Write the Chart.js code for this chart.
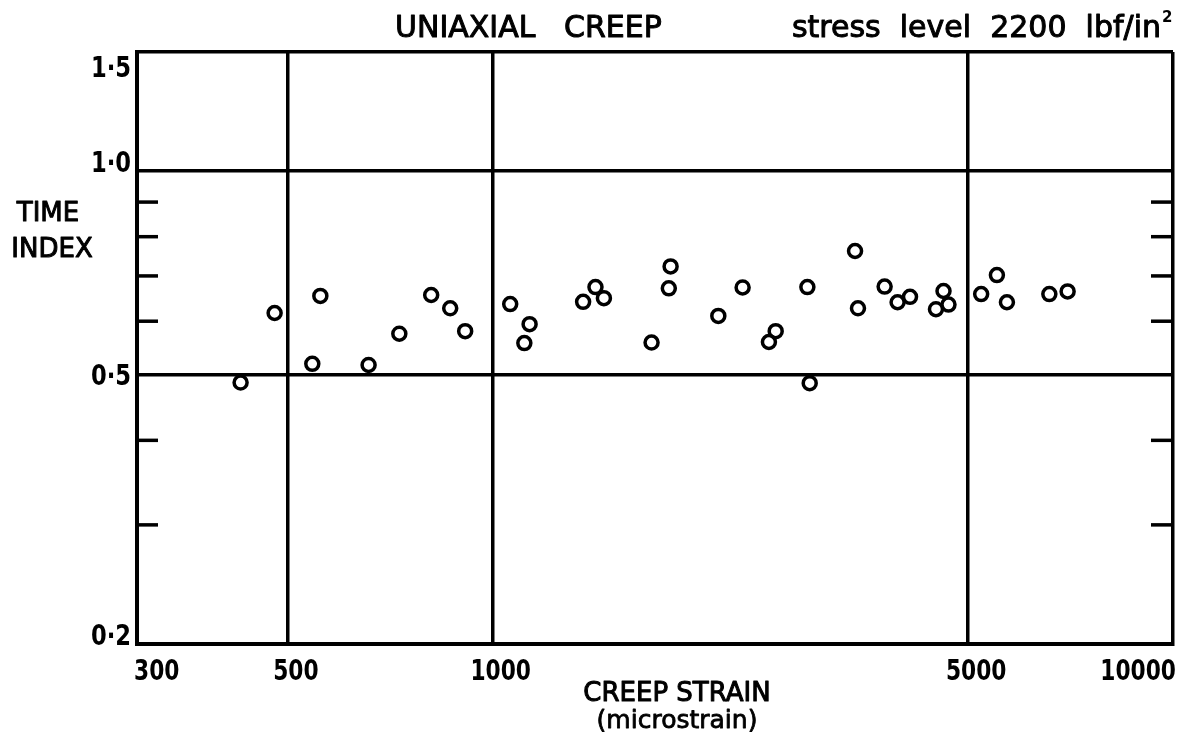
<!DOCTYPE html>
<html>
<head>
<meta charset="utf-8">
<script src="https://cdn.jsdelivr.net/npm/chart.js@4/dist/chart.umd.min.js"></script>
<style>
  html, body { margin: 0; padding: 0; background: #fff; }
  #wrap { width: 1193px; height: 737px; position: relative; }
</style>
</head>
<body>
<div id="wrap"><canvas id="c" width="1193" height="737"></canvas></div>
<script>
// ---- data ----
const strain = [426, 478, 543, 558, 657, 729, 812, 866, 911, 1061,
                1113, 1133, 1358, 1416, 1457, 1712, 1815, 1826, 2146, 2330,
                2547, 2606, 2901, 2924, 3409, 3443, 3768, 3937, 4106, 4483,
                4599, 4677, 5224, 5510, 5700, 6580, 7000];
const timeIndex = [0.487, 0.617, 0.519, 0.654, 0.517, 0.575, 0.656, 0.627, 0.580, 0.636,
                   0.557, 0.594, 0.641, 0.674, 0.649, 0.558, 0.671, 0.723, 0.611, 0.673,
                   0.559, 0.580, 0.674, 0.486, 0.762, 0.627, 0.675, 0.640, 0.652, 0.625,
                   0.665, 0.635, 0.658, 0.702, 0.640, 0.658, 0.664];

const xTickValues = [300, 500, 1000, 5000, 10000];
const xTickLabels = ['300', '500', '1000', '5000', '10000'];
const xGridValues = [500, 1000, 5000, 10000];

const yTickValues = [0.2, 0.5, 1.0, 1.5];
const yTickLabels = ['0·2', '0·5', '1·0', '1·5'];
const yGridValues = [0.5, 1.0, 1.5];
const yMinorTicks = [0.3, 0.4, 0.6, 0.7, 0.8, 0.9];

const titleLeft = 'UNIAXIAL   CREEP';
const titleRight = 'stress  level  2200  lbf/in';
const titleSup = '2';
const yTitle = ['TIME', 'INDEX'];
const xTitle = ['CREEP STRAIN', '(microstrain)'];

// ---- drawing ----
const FONT = '"DejaVu Sans", "Liberation Sans", sans-serif';
const points = strain.map((s, i) => ({ x: s, y: timeIndex[i] }));

const textPlugin = {
  id: 'paperText',
  afterDraw(chart) {
    const ctx = chart.ctx, xs = chart.scales.x, ys = chart.scales.y, a = chart.chartArea;
    ctx.save();
    ctx.strokeStyle = '#000';
    ctx.fillStyle = '#000';
    ctx.lineCap = 'butt';
    const line = (x1, y1, x2, y2) => { ctx.beginPath(); ctx.moveTo(x1, y1); ctx.lineTo(x2, y2); ctx.stroke(); };
    const txt = (s, x, y, font, align, sx, thick) => {
      ctx.save();
      ctx.translate(x, y);
      ctx.scale(sx, 1);
      ctx.font = font;
      ctx.textAlign = align;
      ctx.textBaseline = 'alphabetic';
      ctx.fillText(s, 0, 0);
      if (thick) { ctx.lineWidth = thick; ctx.lineJoin = 'round'; ctx.strokeText(s, 0, 0); }
      ctx.restore();
    };

    // inward minor ticks on both sides
    ctx.lineWidth = 3.5;
    yMinorTicks.forEach(v => {
      const y = ys.getPixelForValue(v);
      line(a.left, y, a.left + 21, y);
      line(a.right - 22, y, a.right, y);
    });

    // y tick labels
    const tickFont = 'bold 29px ' + FONT;
    const yShift = { '1.5': 25, '1': 1, '0.5': 10, '0.2': 1 };
    yTickValues.forEach((v, i) => {
      const y = ys.getPixelForValue(v) + (yShift[String(v)] || 0);
      txt(yTickLabels[i], a.left - 6, y, tickFont, 'right', 0.78, 0);
    });

    // x tick labels
    const xb = a.bottom + 36;
    xTickValues.forEach((v, i) => {
      const x = xs.getPixelForValue(v);
      if (i === 0) txt(xTickLabels[i], x - 3, xb, tickFont, 'left', 0.75, 0);
      else if (i === xTickValues.length - 1) txt(xTickLabels[i], x + 3, xb, tickFont, 'right', 0.75, 0);
      else txt(xTickLabels[i], x + 8, xb, tickFont, 'center', 0.75, 0);
    });

    // axis titles
    txt(yTitle[0], 48, 221, '26px ' + FONT, 'center', 1, 1);
    txt(yTitle[1], 52, 257, '26px ' + FONT, 'center', 1, 1);
    txt(xTitle[0], 677, a.bottom + 57, '26px ' + FONT, 'center', 1, 1);
    txt(xTitle[1], 677, a.bottom + 84, '25px ' + FONT, 'center', 1, 0.8);

    // chart titles
    txt(titleLeft, 395, 37, '30px ' + FONT, 'left', 1, 1);
    const rx = 1161;
    txt(titleRight, rx, 37, '30px ' + FONT, 'right', 1, 1);
    txt(titleSup, rx + 1, 22, 'bold 15px ' + FONT, 'left', 1, 0);
    ctx.restore();
  }
};

new Chart(document.getElementById('c'), {
  type: 'scatter',
  data: {
    datasets: [{
      data: points,
      pointStyle: 'circle',
      pointRadius: 6.5,
      pointHoverRadius: 6.5,
      borderWidth: 3.5,
      borderColor: '#000',
      backgroundColor: 'rgba(255,255,255,0)'
    }]
  },
  options: {
    responsive: false,
    animation: false,
    events: [],
    layout: { padding: { left: 137, top: 52, right: 20, bottom: 93 } },
    plugins: { legend: { display: false }, tooltip: { enabled: false }, title: { display: false } },
    scales: {
      x: {
        type: 'logarithmic',
        min: 300, max: 10000,
        afterBuildTicks: s => { s.ticks = xTickValues.map(v => ({ value: v })); },
        afterFit: s => { s.height = 0; },
        ticks: { display: false },
        border: { display: true, color: '#000', width: 4 },
        grid: {
          drawTicks: false,
          lineWidth: 3.5,
          color: c => (c.tick && xGridValues.includes(c.tick.value)) ? '#000' : 'rgba(0,0,0,0)'
        }
      },
      y: {
        type: 'logarithmic',
        min: 0.2, max: 1.5,
        afterBuildTicks: s => { s.ticks = yTickValues.map(v => ({ value: v })); },
        afterFit: s => { s.width = 0; },
        ticks: { display: false },
        border: { display: true, color: '#000', width: 4 },
        grid: {
          drawTicks: false,
          lineWidth: 3.5,
          color: c => (c.tick && yGridValues.includes(c.tick.value)) ? '#000' : 'rgba(0,0,0,0)'
        }
      }
    }
  },
  plugins: [textPlugin]
});
</script>
</body>
</html>
